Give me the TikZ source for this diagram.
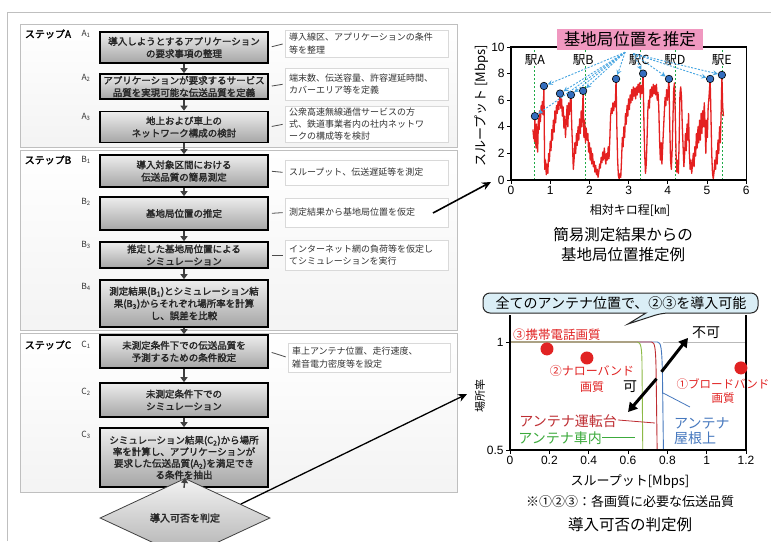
\documentclass[tikz,border=0pt]{standalone}
\usepackage{fontspec}
\setmainfont[AutoFakeBold=2]{Noto Sans CJK JP}
\newfontfamily\arialf{Liberation Sans}
\usetikzlibrary{arrows.meta,shapes.geometric}
\definecolor{tracered}{RGB}{228,32,32}
\definecolor{dotblue}{RGB}{52,110,190}
\definecolor{fanblue}{RGB}{70,165,225}
\definecolor{stgreen}{RGB}{30,170,70}
\definecolor{titlepink}{RGB}{240,152,192}
\definecolor{callfill}{RGB}{218,238,246}
\definecolor{cgreen}{RGB}{140,185,70}
\definecolor{lgreen}{RGB}{60,170,60}
\definecolor{cred}{RGB}{190,45,50}
\definecolor{cblue}{RGB}{70,120,190}
\definecolor{pred}{RGB}{225,35,35}
\begin{document}
\begin{tikzpicture}[x=1pt,y=-1pt,
  mainbox/.style={draw=black, line width=1.6pt, top color=gray!14, bottom color=gray!70, minimum width=168pt, inner xsep=1pt, inner ysep=0.5pt, align=center, font=\fontsize{9.5}{12.3}\selectfont\bfseries, text=black!85},
  sidebox/.style={draw=gray!30, line width=0.8pt, fill=white, text width=155pt, inner xsep=4pt, inner ysep=1pt, align=left, font=\fontsize{9}{12.3}\selectfont, text=black!80},
  steplab/.style={font=\fontsize{10}{12}\selectfont\bfseries, inner sep=0pt},
  sublab/.style={font=\fontsize{8.5}{10}\selectfont, text=black!80, inner sep=0pt},
  flowarrow/.style={draw=black!75, line width=1.4pt, -{Triangle[length=5pt,width=7pt]}},
  conn/.style={draw=black!70, line width=0.8pt, shorten <=3pt, shorten >=2pt},
  stepframe/.style={draw=gray!50, line width=1pt, top color=white, bottom color=gray!9},
  dia/.style={shape=diamond, draw=gray!50!black, line width=0.8pt, top color=gray!10, bottom color=gray!62, minimum width=170pt, minimum height=50pt, inner sep=0pt, font=\fontsize{10}{12}\selectfont\bfseries, text=black!85},
  bigarrow/.style={draw=black, line width=1.6pt, -{Stealth[length=9pt,width=8pt]}},
  ticklab/.style={font=\arialf\fontsize{12}{12}\selectfont, inner sep=1.5pt},
  stline/.style={draw=stgreen, line width=1pt, dash pattern=on 2pt off 2pt},
  trace/.style={draw=tracered, line width=1.3pt, line join=round},
  bdot/.style={circle, fill=dotblue, draw=black, line width=0.6pt, minimum size=7.5pt, inner sep=0pt},
  rdot/.style={circle, fill=pred, minimum size=13pt, inner sep=0pt},
  fan/.style={draw=fanblue, line width=0.9pt, dash pattern=on 2pt off 1.5pt, -{Stealth[open,length=5pt,width=5pt]}},
  stlab/.style={font=\fontsize{12.5}{13}\selectfont, fill=white, inner sep=0.5pt},
  jtext/.style={inner sep=0pt, align=center}
]
\useasboundingbox (0,0) rectangle (771,541);
\fill[white] (0,0) rectangle (771,541);
\draw[gray!50, line width=1pt] (7,541) -- (7,12) -- (771,12);

% ---------- step frames ----------
\draw[stepframe] (20,24) rectangle (457,147);
\draw[stepframe] (20,150) rectangle (457,330);
\draw[stepframe] (20,333) rectangle (457,492);

\node[steplab] (SA) at (48,34) {ステップA};
\node[steplab] (SB) at (48,160) {ステップB};
\node[steplab] (SC) at (48,345) {ステップC};

\node[sublab] (lA1) at (86,34) {A\textsubscript{1}};
\node[sublab] (lA2) at (86,78) {A\textsubscript{2}};
\node[sublab] (lA3) at (86,117) {A\textsubscript{3}};
\node[sublab] (lB1) at (86,160) {B\textsubscript{1}};
\node[sublab] (lB2) at (86,202) {B\textsubscript{2}};
\node[sublab] (lB3) at (86,245) {B\textsubscript{3}};
\node[sublab] (lB4) at (86,287) {B\textsubscript{4}};
\node[sublab] (lC1) at (86,345) {C\textsubscript{1}};
\node[sublab] (lC2) at (86,392) {C\textsubscript{2}};
\node[sublab] (lC3) at (86,435) {C\textsubscript{3}};

% ---------- main boxes ----------
\node[mainbox, minimum height=31pt] (A1) at (184,47.5) {導入しようとするアプリケーション\\の要求事項の整理};
\node[mainbox, minimum height=25pt] (A2) at (184,86.5) {アプリケーションが要求するサービス\\品質を実現可能な伝送品質を定義};
\node[mainbox, minimum height=31pt] (A3) at (184,127) {地上および車上の\\ネットワーク構成の検討};
\node[mainbox, minimum height=32pt] (B1) at (184,171) {導入対象区間における\\伝送品質の簡易測定};
\node[mainbox, minimum height=33pt] (B2) at (184,213.5) {基地局位置の推定};
\node[mainbox, minimum height=26pt] (B3) at (184,255) {推定した基地局位置による\\シミュレーション};
\node[mainbox, minimum height=47pt] (B4) at (184,303.5) {測定結果(B\textsubscript{1})とシミュレーション結\\果(B\textsubscript{3})からそれぞれ場所率を計算\\し、誤差を比較};
\node[mainbox, minimum height=33pt] (C1) at (184,351.5) {未測定条件下での伝送品質を\\予測するための条件設定};
\node[mainbox, minimum height=34pt] (C2) at (184,400) {未測定条件下での\\シミュレーション};
\node[mainbox, minimum height=59pt, font=\fontsize{9.5}{11.6}\selectfont\bfseries] (C3) at (184,457.5) {シミュレーション結果(C\textsubscript{2})から場所\\率を計算し、アプリケーションが\\要求した伝送品質(A\textsubscript{2})を満足でき\\る条件を抽出};
\node[dia] (D) at (185,518) {導入可否を判定};

% ---------- side boxes ----------
\node[sidebox, minimum height=27pt] (A1s) at (366.5,43.5) {導入線区、アプリケーションの条件\\等を整理};
\node[sidebox, minimum height=32pt] (A2s) at (366.5,84) {端末数、伝送容量、許容遅延時間、\\カバーエリア等を定義};
\node[sidebox, minimum height=36pt] (A3s) at (366.5,124) {公衆高速無線通信サービスの方\\式、鉄道事業者内の社内ネットワ\\ークの構成等を検討};
\node[sidebox, minimum height=25pt] (B1s) at (366.5,172.5) {スループット、伝送遅延等を測定};
\node[sidebox, minimum height=29pt] (B2s) at (366.5,212.5) {測定結果から基地局位置を仮定};
\node[sidebox, minimum height=30pt] (B3s) at (366.5,255) {インターネット網の負荷等を仮定し\\てシミュレーションを実行};
\node[sidebox, minimum height=29pt, text width=154pt] (C1s) at (369,357.5) {車上アンテナ位置、走行速度、\\雑音電力密度等を設定};

% ---------- connectors ----------
\draw[flowarrow] (A1.south) -- (A2.north);
\draw[flowarrow] (A2.south) -- (A3.north);
\draw[flowarrow] (A3.south) -- (B1.north);
\draw[flowarrow] (B1.south) -- (B2.north);
\draw[flowarrow] (B2.south) -- (B3.north);
\draw[flowarrow] (B3.south) -- (B4.north);
\draw[flowarrow] (B4.south) -- (C1.north);
\draw[flowarrow] (C1.south) -- (C2.north);
\draw[flowarrow] (C2.south) -- (C3.north);
\draw[flowarrow] (C3.south) -- (D.north);

\draw[conn] (A1.east) -- (A1s.west);
\draw[conn] (A2.east) -- (A2s.west);
\draw[conn] (A3.east) -- (A3s.west);
\draw[conn] (B1.east) -- (B1s.west);
\draw[conn] (B2.east) -- (B2s.west);
\draw[conn] (B3.east) -- (B3s.west);
\draw[conn] (C1.east) -- (C1s.west);

\coordinate (b2src) at (433,213);
\coordinate (chartIn) at (491,182);
\draw[bigarrow] (b2src) -- (chartIn);
\coordinate (chart2In) at (467,394);
\draw[draw=black, line width=1.3pt, -{Stealth[length=9pt,width=8pt]}] (D.14) -- (chart2In);

% ---------- top chart ----------
\begin{scope}[shift={(511pt,-180pt)}, x=39.2pt, y=13.3pt]
\foreach \s in {0.6,1.9,3.3,4.2,5.4} \draw[stline] (\s,0) -- (\s,10);
\draw[trace] plot coordinates {(0.56,3.8) (0.58,3.1) (0.59,3.6) (0.60,2.9) (0.61,4.8) (0.62,3.2) (0.64,2.4) (0.65,4.2) (0.67,3.0) (0.68,2.1) (0.70,4.6) (0.72,3.8) (0.73,5.2) (0.75,4.4) (0.77,5.6) (0.79,5.0) (0.80,5.9) (0.82,4.9) (0.84,7.07) (0.85,3.5) (0.86,0.8) (0.88,1.5) (0.90,0.4) (0.92,1.2) (0.94,0.5) (0.96,2.0) (0.98,1.4) (1.00,2.9) (1.02,2.2) (1.04,3.8) (1.06,3.0) (1.08,4.5) (1.10,3.6) (1.12,5.2) (1.14,4.3) (1.16,5.6) (1.18,5.0) (1.20,5.9) (1.22,5.3) (1.25,6.5) (1.27,5.4) (1.29,6.1) (1.31,4.8) (1.33,5.5) (1.35,3.9) (1.37,4.8) (1.39,3.2) (1.41,4.4) (1.43,5.6) (1.45,4.0) (1.47,5.8) (1.49,4.9) (1.51,5.9) (1.53,6.4) (1.55,4.0) (1.57,2.5) (1.59,0.8) (1.61,1.6) (1.63,2.8) (1.65,2.0) (1.67,3.5) (1.69,2.6) (1.71,4.0) (1.73,3.0) (1.75,4.6) (1.77,3.5) (1.79,5.2) (1.81,4.0) (1.84,6.7) (1.86,3.2) (1.88,4.5) (1.90,2.8) (1.92,3.9) (1.94,3.0) (1.96,3.5) (1.98,2.1) (2.00,2.8) (2.02,1.5) (2.04,2.4) (2.06,1.2) (2.08,2.0) (2.10,1.0) (2.12,1.4) (2.14,0.6) (2.16,1.1) (2.18,0.4) (2.20,0.8) (2.22,0.2) (2.24,0.6) (2.26,1.2) (2.28,0.9) (2.30,1.7) (2.32,1.3) (2.34,2.1) (2.36,1.5) (2.38,2.4) (2.40,1.8) (2.42,1.2) (2.44,2.0) (2.46,1.5) (2.48,2.5) (2.50,1.6) (2.52,3.0) (2.54,4.8) (2.56,5.4) (2.58,5.0) (2.60,5.8) (2.62,5.2) (2.64,5.9) (2.66,5.5) (2.68,7.6) (2.70,4.0) (2.72,1.5) (2.74,0.3) (2.76,0.1) (2.78,0.5) (2.80,0.2) (2.82,1.5) (2.84,3.2) (2.86,2.5) (2.88,4.0) (2.90,3.2) (2.92,5.0) (2.94,4.2) (2.96,5.6) (2.98,4.8) (3.00,6.1) (3.02,5.3) (3.04,6.4) (3.06,5.8) (3.08,6.8) (3.10,6.0) (3.12,7.0) (3.14,6.3) (3.16,6.9) (3.18,6.1) (3.20,7.0) (3.22,6.4) (3.24,7.2) (3.26,6.6) (3.28,7.3) (3.30,6.2) (3.32,7.1) (3.34,6.5) (3.37,8.0) (3.39,4.5) (3.41,2.0) (3.43,0.5) (3.45,1.2) (3.47,3.0) (3.49,5.2) (3.51,6.0) (3.53,5.4) (3.55,6.8) (3.57,6.2) (3.59,7.0) (3.61,6.3) (3.63,7.2) (3.65,6.5) (3.67,7.1) (3.69,6.4) (3.71,7.2) (3.73,6.0) (3.75,6.6) (3.77,5.4) (3.79,3.0) (3.81,1.5) (3.83,2.8) (3.85,1.2) (3.87,2.5) (3.89,3.8) (3.91,5.0) (3.93,6.2) (3.95,5.6) (3.97,6.8) (3.99,6.0) (4.03,7.6) (4.05,4.0) (4.07,1.5) (4.09,0.8) (4.11,2.2) (4.13,4.5) (4.15,6.8) (4.17,7.3) (4.19,5.0) (4.21,2.0) (4.23,0.6) (4.25,1.5) (4.27,0.5) (4.29,3.0) (4.31,6.5) (4.33,7.0) (4.35,6.2) (4.37,4.0) (4.39,2.5) (4.41,1.0) (4.43,2.0) (4.45,3.5) (4.47,2.2) (4.49,4.2) (4.51,3.0) (4.53,5.0) (4.55,2.0) (4.57,0.8) (4.59,1.5) (4.61,0.5) (4.63,1.2) (4.65,2.0) (4.67,1.0) (4.69,2.5) (4.71,1.8) (4.73,3.5) (4.75,2.4) (4.77,4.0) (4.79,2.8) (4.81,4.5) (4.83,3.0) (4.85,5.0) (4.87,3.5) (4.89,5.2) (4.91,4.0) (4.93,5.8) (4.95,4.2) (4.97,2.0) (4.99,4.5) (5.01,3.2) (5.03,5.5) (5.05,6.2) (5.08,7.6) (5.10,5.0) (5.12,2.0) (5.14,0.5) (5.16,0.1) (5.18,0.6) (5.20,1.5) (5.22,0.8) (5.24,2.2) (5.26,1.2) (5.28,3.0) (5.30,2.0) (5.32,4.0) (5.34,2.8) (5.36,5.0) (5.38,7.9) (5.40,5.5) (5.42,4.8)};
\draw[line width=1.1pt] (0,0) rectangle (6,10);
\foreach \i in {0,...,6} \draw[line width=0.8pt] (\i,0) -- ++(0pt,-4pt) node[ticklab, below=0.5pt] (tx\i) {\i};
\foreach \v in {0,2,4,6,8,10} \draw[line width=0.8pt] (0,\v) -- ++(-4pt,0pt) node[ticklab, left=0.5pt] (ty\v) {\v};
\node[stlab] (sA) at (0.61,9.0) {駅A};
\node[stlab] (sB) at (1.84,9.0) {駅B};
\node[stlab] (sC) at (3.27,9.0) {駅C};
\node[stlab] (sD) at (4.18,9.0) {駅D};
\node[stlab] (sE) at (5.38,9.0) {駅E};
\node[bdot] (d1) at (0.61,4.8) {};
\node[bdot] (d2) at (0.84,7.07) {};
\node[bdot] (d3) at (1.25,6.5) {};
\node[bdot] (d4) at (1.53,6.4) {};
\node[bdot] (d5) at (1.84,6.7) {};
\node[bdot] (d6) at (2.68,7.6) {};
\node[bdot] (d7) at (3.37,8.0) {};
\node[bdot] (d8) at (4.03,7.6) {};
\node[bdot] (d9) at (5.08,7.6) {};
\node[bdot] (d10) at (5.38,7.9) {};
\coordinate (fanL) at (2.91,9.6);
\coordinate (fanR) at (3.12,9.5);
\foreach \d in {d1,d2,d3,d4,d5,d6} \draw[fan] (fanL) -- (\d);
\foreach \d in {d7,d8,d9,d10} \draw[fan] (fanR) -- (\d);
\node[fill=titlepink, inner xsep=7pt, inner ysep=3pt, font=\fontsize{16.5}{18}\selectfont] (T) at (3.03,10.55) {基地局位置を推定};
\end{scope}
\node[jtext, rotate=90, font=\fontsize{13}{14}\selectfont] (ylab1) at (482,106) {スループット [Mbps]};
\node[jtext, font=\fontsize{12}{13}\selectfont] (xlab1) at (630,210) {相対キロ程[㎞]};
\node[jtext, font=\fontsize{15.5}{20}\selectfont] (cap1) at (623,245) {簡易測定結果からの\\基地局位置推定例};

% ---------- bottom chart ----------
\draw[fill=callfill, draw=black!85, line width=1pt, rounded corners=7pt] (483,293) -- (758,293) -- (758,313) -- (662,313) [sharp corners] -- (628,324) -- (646,313) [rounded corners=7pt] -- (483,313) -- cycle;
\node[jtext, font=\fontsize{14}{16}\selectfont] (call) at (621,303.5) {全てのアンテナ位置で、②③を導入可能};

\begin{scope}[shift={(510pt,-558pt)}, x=196.7pt, y=216pt]
\draw[gray!55, line width=0.9pt] (0.78,1) -- (1.2,1);
\draw[cblue, line width=0.9pt] (0,1) -- (0.75,1) .. controls (0.768,1) and (0.772,0.97) .. (0.775,0.85) -- (0.78,0.5);
\draw[cred, line width=0.9pt] (0,1) -- (0.72,1) .. controls (0.737,1) and (0.741,0.97) .. (0.743,0.85) -- (0.748,0.5);
\draw[cgreen, line width=0.9pt] (0,1) -- (0.648,1) .. controls (0.666,1) and (0.67,0.97) .. (0.671,0.9) -- (0.675,0.5);
\draw[line width=1.1pt] (0,1.125) -- (0,0.5) -- (1.2,0.5) -- (1.2,1.125);
\foreach \v/\l in {0/0,0.2/0.2,0.4/0.4,0.6/0.6,0.8/0.8,1/1,1.2/1.2} \draw[line width=0.8pt] (\v,0.5) -- ++(0pt,-4pt) node[ticklab, below=0.5pt] (bx\l) {\l};
\draw[line width=0.8pt] (0,1) -- ++(-4pt,0pt) node[ticklab, left=0.5pt] (by1) {1};
\draw[line width=0.8pt] (0,0.5) -- ++(-4pt,0pt) node[ticklab, left=0.5pt] (by05) {0.5};
\node[rdot] (q3) at (0.188,0.968) {};
\node[rdot] (q2) at (0.391,0.926) {};
\node[rdot] (q1) at (1.174,0.880) {};
\coordinate (bl1) at (0.778,0.764);
\coordinate (bl2) at (0.915,0.699);
\draw[cblue, line width=0.8pt] (bl1) -- (bl2);
\coordinate (rl1) at (0.549,0.639);
\coordinate (rl2) at (0.737,0.625);
\draw[cred, line width=0.8pt] (rl1) -- (rl2);
\coordinate (gl1) at (0.468,0.560);
\coordinate (gl2) at (0.635,0.560);
\draw[lgreen, line width=0.8pt] (gl1) -- (gl2);
\coordinate (up1) at (0.770,0.862);
\coordinate (up2) at (0.905,1.019);
\coordinate (lo1) at (0.745,0.830);
\coordinate (lo2) at (0.600,0.676);
\draw[line width=3pt, -{Triangle[length=9pt,width=10pt]}] (up1) -- (up2);
\draw[line width=3pt, -{Triangle[length=9pt,width=10pt]}] (lo1) -- (lo2);
\end{scope}

\node[jtext, anchor=west, text=pred, font=\fontsize{12.5}{14}\selectfont] (t3) at (513,335) {③携帯電話画質};
\node[jtext, text=pred, font=\fontsize{12}{16}\selectfont] (t2) at (592,379) {②ナローバンド\\画質};
\node[jtext, text=pred, font=\fontsize{11.5}{14}\selectfont] (t1) at (723,391) {①ブロードバンド\\画質};
\node[jtext, font=\fontsize{14}{16}\selectfont] (ng) at (706,333) {不可};
\node[jtext, font=\fontsize{14}{16}\selectfont] (ok) at (630,387) {可};
\node[jtext, anchor=east, text=cred, font=\fontsize{14}{16}\selectfont] (lr) at (617,421) {アンテナ運転台};
\node[jtext, anchor=east, text=lgreen, font=\fontsize{14}{16}\selectfont] (lg) at (602,438) {アンテナ車内};
\node[jtext, anchor=west, align=left, text=cblue, font=\fontsize{14}{15}\selectfont] (lb) at (674,431) {アンテナ\\屋根上};
\node[jtext, rotate=90, font=\fontsize{11}{12}\selectfont] (ylab2) at (480,396) {場所率};
\node[jtext, font=\fontsize{13}{14}\selectfont] (xlab2) at (630,482) {スループット[Mbps]};
\node[jtext, font=\fontsize{13}{14}\selectfont] (note) at (630,502) {※①②③：各画質に必要な伝送品質};
\node[jtext, font=\fontsize{15.5}{17}\selectfont] (cap2) at (630,525) {導入可否の判定例};
\end{tikzpicture}
\end{document}
